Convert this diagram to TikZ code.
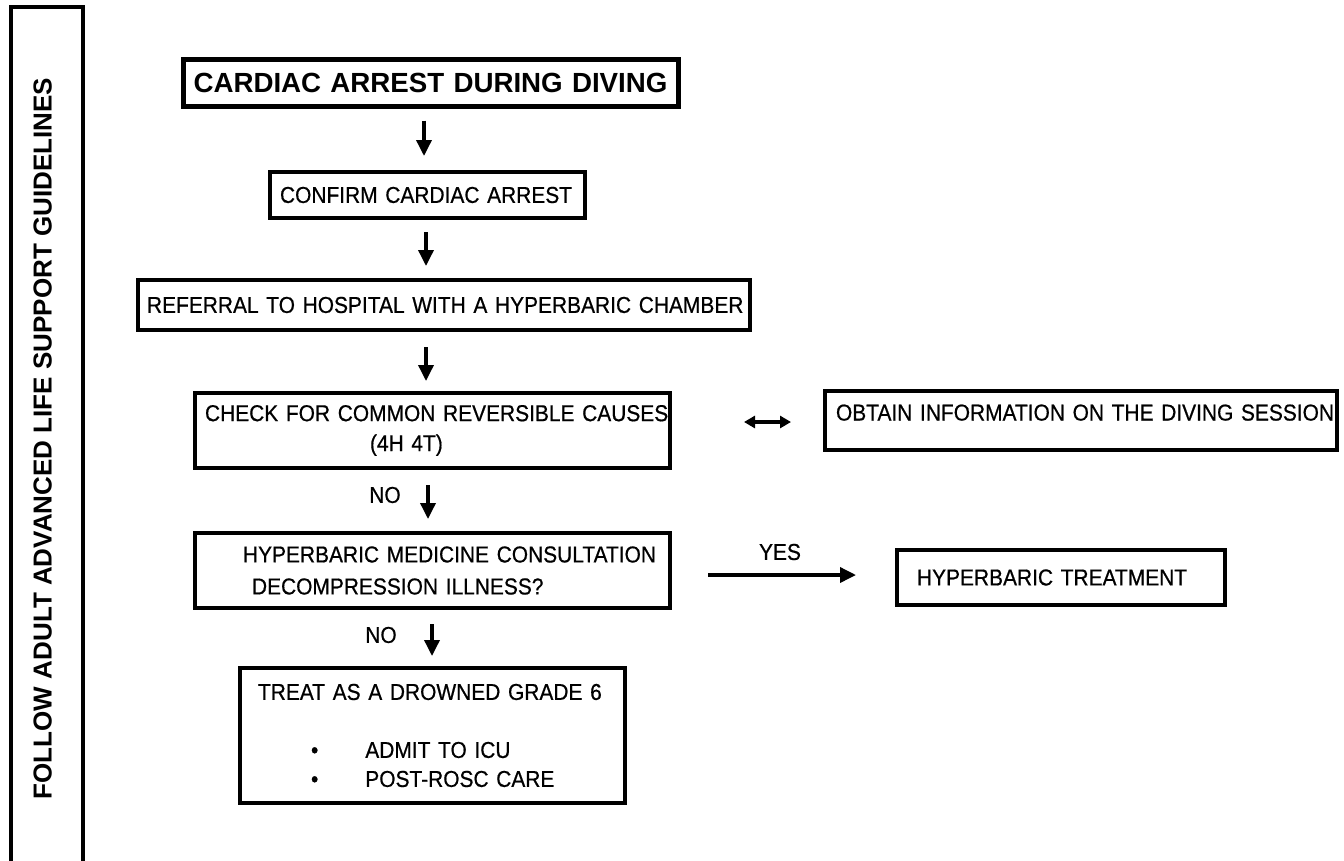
\documentclass[tikz,border=0pt]{standalone}
\usepackage{fontspec}
\setmainfont{Liberation Sans}
\newfontfamily\bodyfont{Liberation Sans}[FakeStretch=0.91, FakeBold=0.6]
\usetikzlibrary{arrows.meta}

\tikzset{
  stepbox/.style={draw, line width=4pt, align=left, inner xsep=0pt, inner ysep=0pt,
                  font=\bodyfont\fontsize{23}{30}\selectfont},
  arr/.style={line width=3.5pt, -{Triangle[length=16pt,width=15pt]}},
  lbl/.style={inner sep=0pt, font=\bodyfont\fontsize{23}{25}\selectfont}
}

\begin{document}
\begin{tikzpicture}[x=1pt,y=-1pt]
\useasboundingbox (0,0) rectangle (1344,860);

% side bar
\node[draw, line width=4pt, rotate=90, minimum width=863pt, minimum height=72pt,
      inner sep=0pt, text depth=9pt, font=\bfseries\fontsize{26}{30}\selectfont]
  (als) at (47,438.5) {FOLLOW ADULT ADVANCED LIFE SUPPORT GUIDELINES};

% main column (text width = box width, left pad by \hspace*)
\node[stepbox, line width=5pt, align=center, text width=495pt, minimum height=47pt,
      font=\bfseries\fontsize{27.7}{30}\selectfont]
  (start) at (430.5,82.5) {CARDIAC ARREST DURING DIVING};
\node[stepbox, text width=315pt, minimum height=46pt]
  (confirm) at (427.5,195) {\hspace*{10pt}CONFIRM CARDIAC ARREST};
\node[stepbox, text width=612pt, minimum height=50pt]
  (refer) at (444,305) {\hspace*{9pt}REFERRAL TO HOSPITAL WITH A HYPERBARIC CHAMBER};
\node[stepbox, text width=475pt, minimum height=75pt]
  (check) at (432.5,430.5) {\hspace*{10pt}CHECK FOR COMMON REVERSIBLE CAUSES\\ \hspace*{175pt}(4H 4T)};
\node[stepbox, text width=475pt, minimum height=75pt, font=\bodyfont\fontsize{23}{32}\selectfont]
  (consult) at (432.5,570.5) {\hspace*{48pt}HYPERBARIC MEDICINE CONSULTATION\\ \hspace*{57pt}DECOMPRESSION ILLNESS?};
\node[stepbox, text width=385pt, minimum height=135pt, font=\bodyfont\fontsize{23}{29}\selectfont]
  (drown) at (432.5,735.5) {\hspace*{18pt}TREAT AS A DROWNED GRADE 6\\ \mbox{}\\
    \hspace*{71pt}\textbullet\hspace{47pt}ADMIT TO ICU\\
    \hspace*{71pt}\textbullet\hspace{47pt}POST-ROSC CARE};

% right column
\node[stepbox, text width=512pt, minimum height=59pt, text depth=16pt]
  (obtain) at (1081,420.5) {\hspace*{11pt}OBTAIN INFORMATION ON THE DIVING SESSION};
\node[stepbox, text width=328pt, minimum height=55pt]
  (hyptreat) at (1061,577.5) {\hspace*{20pt}HYPERBARIC TREATMENT};

% answers
\node[lbl] (no1) at (385,495) {NO};
\node[lbl] (yes) at (780,552) {YES};
\node[lbl] (no2) at (381,635) {NO};

% arrows down the column
\foreach \a/\b/\x/\s/\e in {start/confirm/424/12pt/14pt, confirm/refer/426/12pt/12pt,
    refer/check/426/15pt/10pt, check/consult/428/15pt/12pt, consult/drown/432/14pt/10pt}
  \draw[arr, shorten <=\s, shorten >=\e] (\a.south -| \x,0) -- (\b.north -| \x,0);

\draw[line width=3.5pt, {Triangle[length=11pt,width=12pt]}-{Triangle[length=11pt,width=12pt]},
      shorten <=72pt, shorten >=32pt]
  (check.east |- 0,422) -- (obtain.west |- 0,422);
\draw[arr, shorten <=36pt, shorten >=39pt]
  (consult.east |- 0,575) -- (hyptreat.west |- 0,575);
\end{tikzpicture}
\end{document}
